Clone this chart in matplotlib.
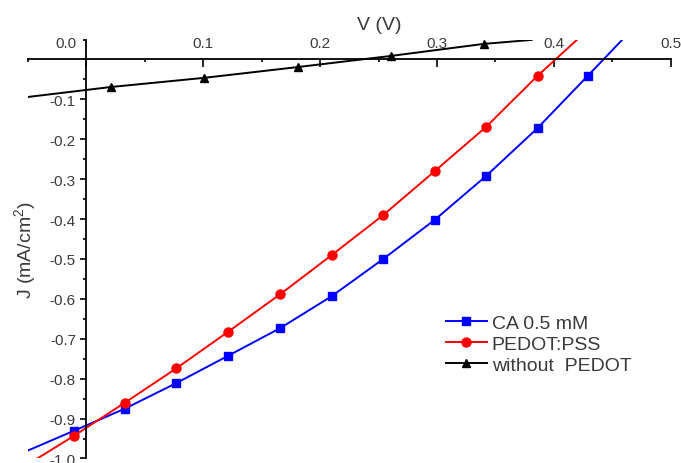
import matplotlib
matplotlib.use('Agg')
import matplotlib.pyplot as plt
from matplotlib.ticker import MultipleLocator, FixedLocator
from matplotlib.transforms import ScaledTranslation

plt.rcParams['font.family'] = ['Liberation Sans', 'DejaVu Sans']
plt.rcParams['mathtext.default'] = 'regular'

# CA 0.5 mM (first/last are line ends, middle ones carry markers)
v_ca = [-0.05, -0.011, 0.033, 0.077, 0.121, 0.166, 0.210, 0.254, 0.298, 0.342, 0.386, 0.429, 0.459]
j_ca = [-0.980, -0.931, -0.875, -0.811, -0.743, -0.673, -0.593, -0.500, -0.402, -0.292, -0.172, -0.041, 0.051]

# PEDOT:PSS
v_pe = [-0.042, -0.011, 0.033, 0.077, 0.121, 0.166, 0.210, 0.254, 0.298, 0.342, 0.386, 0.420]
j_pe = [-1.000, -0.944, -0.860, -0.774, -0.683, -0.588, -0.490, -0.390, -0.280, -0.169, -0.041, 0.050]

# without PEDOT
v_wo = [-0.05, 0.021, 0.101, 0.181, 0.261, 0.340, 0.381]
j_wo = [-0.094, -0.069, -0.046, -0.019, 0.009, 0.039, 0.049]

txt = '#3a3a3a'

fig = plt.figure(figsize=(6.81, 4.64), dpi=100)
ax = fig.add_axes([0.041, 0.0097, 0.944, 0.903])

ax.plot(v_ca, j_ca, color='#0000ff', lw=1.4, marker='s', ms=5.5,
        markevery=slice(1, -1), label='CA 0.5 mM')
ax.plot(v_pe, j_pe, color='#ff0000', lw=1.4, marker='o', ms=6.5,
        markevery=slice(1, -1), label='PEDOT:PSS')
ax.plot(v_wo, j_wo, color='black', lw=1.4, marker='^', ms=6,
        markevery=slice(1, -1), label='without  PEDOT')

ax.set_xlim(-0.05, 0.5)
ax.set_ylim(-1.0, 0.05)

ax.spines['right'].set_visible(False)
ax.spines['bottom'].set_visible(False)
ax.spines['left'].set_position(('data', 0))
ax.spines['top'].set_position(('data', 0))
ax.spines['left'].set_linewidth(1.3)
ax.spines['top'].set_linewidth(1.3)

ax.xaxis.tick_top()
ax.xaxis.set_major_locator(MultipleLocator(0.1))
ax.xaxis.set_minor_locator(MultipleLocator(0.05))
ax.yaxis.set_major_locator(FixedLocator([-0.1 * i for i in range(1, 11)]))
ax.yaxis.set_minor_locator(MultipleLocator(0.05))
ax.set_xticklabels(['%.1f' % t for t in ax.get_xticks()])
ax.set_yticklabels(['%.1f' % t for t in ax.get_yticks()])

ax.tick_params(axis='x', which='major', direction='in', length=5.5, width=1.2,
               pad=7, labelsize=11, labelcolor=txt)
ax.tick_params(axis='x', which='minor', direction='in', length=2.5, width=1.2)
ax.tick_params(axis='y', which='major', direction='out', length=4.5, width=1.2,
               pad=3, labelsize=11, labelcolor=txt)
ax.tick_params(axis='y', which='minor', direction='out', length=2.5, width=1.2)

# shift the 0.0 x label left of the y axis
for tick in ax.xaxis.get_major_ticks():
    if abs(tick.get_loc()) < 1e-9:
        tick.label2.set_horizontalalignment('right')
        tick.label2.set_transform(tick.label2.get_transform() +
                                  ScaledTranslation(-7 / 72, 0, fig.dpi_scale_trans))

ax.xaxis.set_label_position('top')
ax.set_xlabel('V (V)', fontsize=14, color=txt)
ax.xaxis.set_label_coords(0.547, 1.025)
ax.set_ylabel('J (mA/cm$^2$)', fontsize=14, color=txt)
ax.yaxis.set_label_coords(0.016, 0.5)

ax.legend(loc='upper left', bbox_to_anchor=(0.650, 0.344), frameon=False,
          fontsize=14, handlelength=2.1, handletextpad=0.26, labelspacing=0.17,
          borderpad=0, borderaxespad=0, labelcolor=txt)

fig.savefig('out.png', dpi=100)
